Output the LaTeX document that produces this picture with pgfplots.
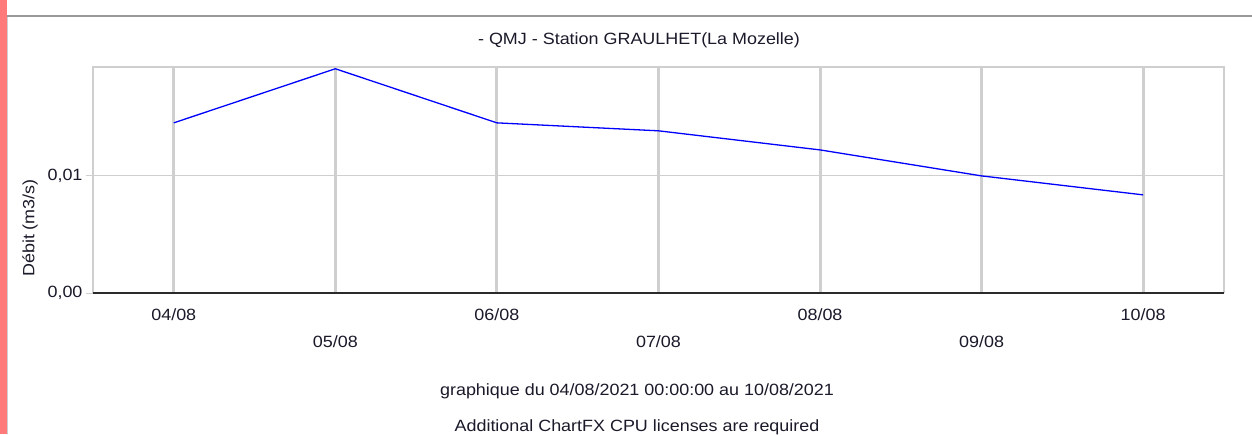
\documentclass[border=0pt]{standalone}
\usepackage{fontspec}
\setmainfont{Liberation Sans}[FakeStretch=1.1]
\usepackage{pgfplots}
\pgfplotsset{compat=1.18}
\definecolor{gridgray}{HTML}{CFCFCF}
\definecolor{pinkstrip}{HTML}{FF7B7B}
\definecolor{topline}{HTML}{999999}
\definecolor{darkaxis}{HTML}{2A2A2A}
\definecolor{txt}{HTML}{1A1A2A}
\newcommand{\cf}{\fontsize{16.3}{19}\selectfont}
\begin{document}
\begin{tikzpicture}[x=1pt,y=1pt]
\useasboundingbox (0,0) rectangle (1252,434);
\clip (0,0) rectangle (1252,434);
\fill[white] (0,0) rectangle (1252,434);
\fill[pinkstrip] (0,0) rectangle (6.5,434);
\draw[line width=1pt, gridgray] (7.5,0) -- (7.5,418);
\draw[line width=2pt, topline] (7,418) -- (1252,418);
\begin{axis}[
  at={(93pt,141pt)}, anchor=south west,
  width=1131pt, height=226pt, scale only axis,
  xmin=-0.5, xmax=6.5, ymin=0, ymax=0.0193,
  clip=false,
  axis line style={draw=none},
  xtick={0,2,4,6},
  xticklabels={04/08,06/08,08/08,10/08},
  xticklabel style={yshift=-5pt},
  extra x ticks={1,3,5},
  extra x tick labels={05/08,07/08,09/08},
  extra x tick style={grid=major, xticklabel style={yshift=-27pt}},
  ytick={0,0.01},
  yticklabels={{0,00},{0,01}},
  ytick pos=left,
  xmajorgrids=true, ymajorgrids=true,
  x grid style={gridgray, line width=3pt},
  y grid style={gridgray, line width=1pt},
  tick align=outside,
  major tick length=7pt,
  x tick style={draw=none},
  y tick style={gridgray, line width=1pt},
  ticklabel style={font=\cf, text=txt},
  scaled y ticks=false,
]
\draw[gridgray, line width=1.5pt] (rel axis cs:0,0) -- (rel axis cs:0,1) -- (rel axis cs:1,1) -- (rel axis cs:1,0);
\addplot[blue, line width=1.3pt, mark=none] coordinates {
(0,0.01453) (1,0.01915) (2,0.01453) (3,0.01385) (4,0.01222) (5,0.0100) (6,0.00838)
};
\draw[darkaxis, line width=1.8pt] (rel axis cs:0,0) -- (rel axis cs:1,0);
\end{axis}
\node[rotate=90, font=\cf, text=txt] at (30,206) {Débit (m3/s)};
\node[font=\cf, text=txt] at (639,394) {- QMJ - Station GRAULHET(La Mozelle)};
\node[font=\cf, text=txt] at (637,43) {graphique du 04/08/2021 00:00:00 au 10/08/2021};
\node[font=\cf, text=txt] at (637,7) {Additional ChartFX CPU licenses are required};
\end{tikzpicture}
\end{document}
